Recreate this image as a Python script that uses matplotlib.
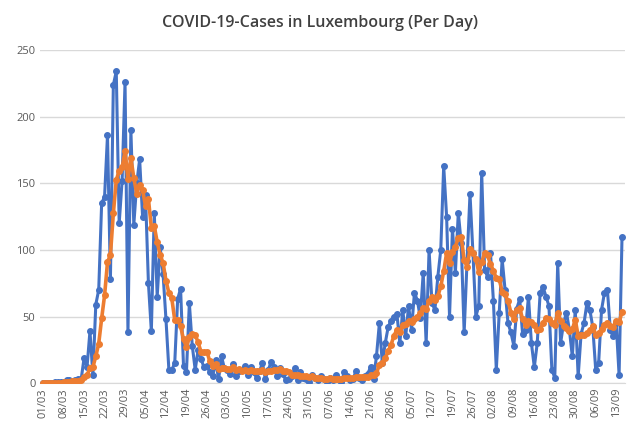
import numpy as np
import pandas as pd
import matplotlib
matplotlib.use("Agg")
import matplotlib.pyplot as plt

start = "2020-03-01"
cases = [
    0, 0, 0, 0, 1, 1, 1, 1, 2, 2, 1, 2, 3, 3,
    19, 12, 39, 6, 59, 70, 135, 140, 186, 78, 224, 234, 120, 152,
    226, 38, 190, 119, 150, 168, 125, 141, 75, 39, 128, 65, 102, 82,
    48, 10, 10, 15, 63, 71, 13, 8, 60, 28, 10, 25, 18, 12,
    13, 8, 5, 17, 3, 20, 11, 10, 7, 14, 5, 9, 10, 13,
    6, 12, 8, 4, 9, 15, 3, 10, 16, 12, 5, 11, 7, 2,
    3, 5, 11, 2, 8, 4, 3, 1, 6, 4, 2, 5, 3, 1,
    4, 2, 6, 3, 1, 8, 5, 2, 3, 9, 4, 2, 5, 7,
    12, 3, 20, 45, 15, 30, 42, 47, 50, 52, 30, 55, 35, 58,
    40, 68, 62, 49, 83, 30, 100, 60, 55, 80, 100, 163, 125, 50,
    116, 83, 128, 105, 38, 92, 142, 98, 50, 58, 158, 85, 80, 98,
    62, 10, 53, 93, 70, 45, 38, 28, 56, 63, 37, 40, 65, 30,
    12, 30, 68, 72, 65, 58, 10, 4, 90, 30, 45, 53, 40, 20,
    55, 5, 37, 45, 60, 55, 42, 10, 15, 55, 68, 70, 40, 35,
    45, 6, 110,
]

dates = pd.date_range(start, periods=len(cases), freq="D")
s = pd.Series(cases, index=dates)
avg = s.rolling(7, min_periods=1).mean()

plt.rcParams["font.family"] = ["Open Sans", "DejaVu Sans"]
fig = plt.figure(figsize=(6.39, 4.29), dpi=100)
ax = fig.add_axes([0.063, 0.107, 0.915, 0.776])
x = np.arange(len(cases))
ax.plot(x, s.values, color="#4472C4", lw=2.2, marker="o", ms=4, zorder=3)
ax.plot(x, avg.values, color="#ED7D31", lw=2.6, marker="o", ms=4, zorder=4)

ax.set_ylim(0, 250)
ax.set_yticks(range(0, 251, 50))
ax.set_xlim(-1, len(cases))
ticks = x[::7]
ax.set_xticks(ticks)
ax.set_xticklabels([dates[i].strftime("%d/%m") for i in ticks], rotation=90)
ax.tick_params(axis="both", labelsize=8, colors="#595959", length=0)
ax.yaxis.grid(True, color="#D9D9D9", lw=1)
ax.set_axisbelow(True)
for side in ["top", "right", "left"]:
    ax.spines[side].set_visible(False)
ax.spines["bottom"].set_color("#D9D9D9")
fig.suptitle("COVID-19-Cases in Luxembourg (Per Day)", y=0.965, fontsize=11.5,
             color="#404040", fontweight="semibold")
fig.savefig("out.png", dpi=100)
